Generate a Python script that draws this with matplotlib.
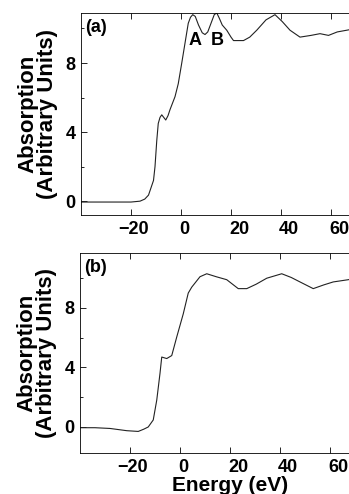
import matplotlib
matplotlib.use("Agg")
import matplotlib.pyplot as plt
import matplotlib.transforms as mtransforms
from matplotlib.ticker import MultipleLocator

# data (energy in eV, absorption in arbitrary units)
energy_a = [-40, -30, -20, -16.4, -14.5, -13, -11, -10.4, -9.7, -9.1, -8.4, -7.7, -6.9,
            -6.1, -5.2, -4.4, -2.4, -1.1, 0.3, 1.6, 2.9, 3.8, 4.7, 5.7, 7.0, 8.5,
            9.6, 10.7, 12.0, 13.3, 14.3, 15.3, 16.5, 18.3, 20, 21, 25, 27.5, 30.3,
            34.0, 37.6, 40.5, 43.6, 47.6, 52.0, 55.6, 59, 62.5, 66.3, 70]
absorb_a = [-0.05, -0.05, -0.05, 0.0, 0.12, 0.35, 1.2, 2.0, 3.5, 4.5, 4.85, 5.0, 4.85,
            4.7, 4.95, 5.3, 6.05, 6.8, 8.0, 9.15, 10.3, 10.65, 10.8, 10.7, 10.2, 9.75,
            9.65, 9.8, 10.3, 10.8, 10.9, 10.6, 10.2, 9.9, 9.5, 9.3, 9.3, 9.5, 9.9,
            10.5, 10.8, 10.4, 9.9, 9.5, 9.6, 9.7, 9.6, 9.8, 9.9, 10.0]

energy_b = [-40, -34, -28, -21.3, -16.7, -14.5, -12.7, -10.7, -9.3, -8, -7.3, -5.3,
            -3.3, -1.3, 1.3, 3.3, 4.7, 8, 10.7, 14.5, 18.7, 23.3, 26.7, 30.5,
            34.7, 40.7, 44.5, 48, 53.3, 57.5, 61.3, 67.3, 70]
absorb_b = [-0.05, -0.05, -0.1, -0.25, -0.3, -0.15, 0.0, 0.47, 1.8, 3.6, 4.7, 4.6,
            4.8, 6.05, 7.6, 9.0, 9.4, 10.1, 10.3, 10.1, 9.9, 9.3, 9.3, 9.6,
            10.0, 10.3, 10.05, 9.75, 9.3, 9.55, 9.75, 9.9, 10.0]

x_ticks = [-20, 0, 20, 40, 60]
y_ticks = [0, 4, 8]

plt.rcParams['font.family'] = ['Liberation Sans', 'DejaVu Sans']
plt.rcParams['font.weight'] = 'bold'

fig = plt.figure(figsize=(3.49, 4.94), dpi=100)
ax_a = fig.add_axes([0.2321, 0.5648, 0.8596, 0.409])
ax_b = fig.add_axes([0.2292, 0.083, 0.8596, 0.405])

panels = [(ax_a, energy_a, absorb_a, (-0.8, 10.9), '(a)'),
          (ax_b, energy_b, absorb_b, (-1.75, 11.7), '(b)')]

for ax, xs, ys, ylim, tag in panels:
    ax.plot(xs, ys, color='#222222', lw=0.8)
    ax.set_xlim(-40, 80)
    ax.set_ylim(*ylim)
    ax.set_xticks(x_ticks)
    ax.set_xticklabels([str(v).replace('-', '\u2212') for v in x_ticks])
    ax.set_yticks(y_ticks)
    ax.yaxis.set_minor_locator(MultipleLocator(2))
    ax.tick_params(which='both', direction='in', top=True, right=False,
                   labelsize=13, width=0.6, pad=4)
    ax.tick_params(which='major', length=4)
    ax.tick_params(which='minor', length=2)
    for sp in ax.spines.values():
        sp.set_linewidth(0.6)
    # old-style labels: digits start at the tick, minus sign hangs to the left
    for v, lab in zip(x_ticks, ax.get_xticklabels()):
        lab.set_horizontalalignment('left')
        dx = -0.02 - (0.105 if v < 0 else 0)
        lab.set_transform(lab.get_transform() +
                          mtransforms.ScaledTranslation(dx, 0, fig.dpi_scale_trans))
    ax.set_ylabel('Absorption\n(Arbitrary Units)', fontsize=16, fontweight='bold',
                  linespacing=0.95, labelpad=5)
    ax.text(0.015, 0.97, tag, transform=ax.transAxes, fontsize=13,
            fontweight='bold', va='top', ha='left')

# peak labels in panel (a)
ax_a.text(5.6, 9.3, 'A', fontsize=13, fontweight='bold', ha='center', va='center')
ax_a.text(14.4, 9.3, 'B', fontsize=13, fontweight='bold', ha='center', va='center')
ax_b.set_xlabel('Energy (eV)', fontsize=15, fontweight='bold', labelpad=0)

fig.savefig('out.png', dpi=100)
